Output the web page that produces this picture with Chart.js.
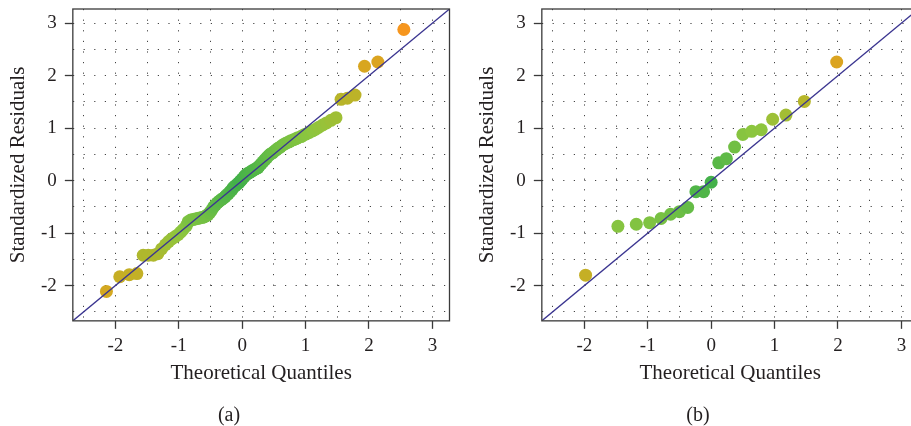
<!DOCTYPE html>
<html>
<head>
<meta charset="utf-8">
<script src="https://cdn.jsdelivr.net/npm/chart.js@4.4.1/dist/chart.umd.min.js"></script>
<style>
  html, body { margin: 0; padding: 0; background: #fff; overflow: hidden; }
  #wrap { position: relative; width: 911px; height: 426px; overflow: hidden; }
  #chartA { position: absolute; left: 0; top: 0; }
  #chartB { position: absolute; left: 469px; top: 0; }
</style>
</head>
<body>
<div id="wrap">
  <canvas id="chartA" width="456" height="426"></canvas>
  <canvas id="chartB" width="456" height="426"></canvas>
</div>
<script>
// (a) theoretical quantiles vs standardized residuals
const quantilesA = [
  -2.14, -1.93, -1.78, -1.66, -1.56, -1.48, -1.40, -1.33, -1.27, -1.21,
  -1.16, -1.11, -1.06, -1.01, -0.97, -0.93, -0.88, -0.85, -0.81, -0.77,
  -0.74, -0.70, -0.67, -0.63, -0.60, -0.57, -0.54, -0.51, -0.48, -0.45,
  -0.42, -0.39, -0.36, -0.33, -0.30, -0.27, -0.25, -0.22, -0.19, -0.16,
  -0.14, -0.11, -0.08, -0.05, -0.03, 0.00,
  0.03, 0.05, 0.08, 0.11, 0.14, 0.16, 0.19, 0.22, 0.25, 0.27,
  0.30, 0.33, 0.36, 0.39, 0.42, 0.45, 0.48, 0.51, 0.54, 0.57,
  0.60, 0.63, 0.67, 0.70, 0.74, 0.77, 0.81, 0.85, 0.88, 0.93,
  0.97, 1.01, 1.06, 1.11, 1.16, 1.21, 1.27, 1.33, 1.40, 1.48,
  1.56, 1.66, 1.78, 1.93, 2.14, 2.55
];
const residualsA = [
  -2.11, -1.83, -1.79, -1.77, -1.42, -1.42, -1.42, -1.39, -1.30, -1.22,
  -1.16, -1.11, -1.07, -1.03, -0.98, -0.93, -0.86, -0.78, -0.75, -0.74,
  -0.73, -0.72, -0.71, -0.70, -0.69, -0.67, -0.65, -0.61, -0.56, -0.50,
  -0.46, -0.42, -0.39, -0.36, -0.34, -0.31, -0.28, -0.25, -0.21, -0.17,
  -0.13, -0.10, -0.07, -0.04, -0.01, 0.03,
  0.07, 0.10, 0.13, 0.15, 0.17, 0.19, 0.21, 0.23, 0.25, 0.28,
  0.32, 0.36, 0.40, 0.44, 0.48, 0.51, 0.53, 0.56, 0.59, 0.62,
  0.64, 0.67, 0.70, 0.72, 0.74, 0.76, 0.78, 0.80, 0.82, 0.84,
  0.87, 0.89, 0.92, 0.95, 0.98, 1.02, 1.06, 1.10, 1.15, 1.20,
  1.55, 1.57, 1.63, 2.18, 2.26, 2.88
];

// (b)
const quantilesB = [
  -1.98, -1.47, -1.18, -0.97, -0.79, -0.64, -0.50, -0.37, -0.24, -0.12, 0.00,
  0.12, 0.24, 0.37, 0.50, 0.64, 0.79, 0.97, 1.18, 1.47, 1.98
];
const residualsB = [
  -1.80, -0.87, -0.83, -0.80, -0.72, -0.64, -0.59, -0.51, -0.21, -0.21, -0.03,
  0.34, 0.42, 0.64, 0.88, 0.94, 0.97, 1.17, 1.25, 1.51, 2.26
];

const axisMin = -2.67;
const axisMax = 3.27;
const gridValues = [-2.5, -2, -1.5, -1, -0.5, 0, 0.5, 1, 1.5, 2, 2.5, 3];
const xTitle = 'Theoretical Quantiles';
const yTitle = 'Standardized Residuals';

const fontFamily = "'Liberation Serif', 'DejaVu Serif', serif";
const textColor = '#231f20';

// green near zero, through yellow-green to orange for large residuals
const colorStops = [
  [0.0, [66, 176, 74]],
  [0.5, [100, 188, 70]],
  [0.95, [141, 198, 63]],
  [1.5, [181, 182, 42]],
  [2.1, [212, 168, 32]],
  [2.9, [247, 150, 30]]
];

function residualColor(ctx) {
  const v = ctx.raw ? Math.abs(ctx.raw.y) : 0;
  for (let i = 1; i < colorStops.length; i++) {
    const [v1, c1] = colorStops[i];
    const [v0, c0] = colorStops[i - 1];
    if (v <= v1 || i === colorStops.length - 1) {
      const t = Math.max(0, Math.min(1, (v - v0) / (v1 - v0)));
      const c = c0.map((a, k) => Math.round(a + (c1[k] - a) * t));
      return `rgb(${c[0]},${c[1]},${c[2]})`;
    }
  }
}

const framePlugin = {
  id: 'frame',
  afterDraw(chart) {
    const { ctx, chartArea: a } = chart;
    ctx.save();
    ctx.strokeStyle = '#3a3a3a';
    ctx.lineWidth = 1.3;
    ctx.strokeRect(a.left, a.top, a.right - a.left, a.bottom - a.top);
    ctx.restore();
  }
};

function axisOptions(titleText, isX) {
  return {
    type: 'linear',
    min: axisMin,
    max: axisMax,
    afterBuildTicks: (axis) => {
      axis.ticks = gridValues.map(v => ({ value: v }));
    },
    afterFit: (axis) => {
      // plot edge is not a tick, so no room is needed for edge labels
      axis.paddingTop = 0;
      axis.paddingBottom = 0;
      axis.paddingLeft = 0;
      axis.paddingRight = 0;
    },
    ticks: {
      autoSkip: false,
      maxRotation: 0,
      padding: isX ? 9 : 8,
      color: textColor,
      font: { family: fontFamily, size: 19, lineHeight: 0.85 },
      callback: (v) => Number.isInteger(v) ? String(v) : ''
    },
    grid: {
      color: '#444',
      lineWidth: 1,
      tickLength: 8,
      tickWidth: 1.3,
      tickBorderDash: [],
      tickColor: (c) => Number.isInteger(c.tick && c.tick.value) ? '#3a3a3a' : 'rgba(0,0,0,0)'
    },
    border: { display: false, dash: [1.2, 9.4] },
    title: {
      display: true,
      text: titleText,
      color: textColor,
      font: { family: fontFamily, size: 21, lineHeight: 1.0 },
      padding: { top: 0, bottom: 4 }
    }
  };
}

function makeChart(id, xs, ys, caption) {
  const points = xs.map((x, i) => ({ x: x, y: ys[i] }));
  return new Chart(document.getElementById(id), {
    type: 'scatter',
    data: {
      datasets: [
        {
          type: 'line',
          data: [{ x: axisMin, y: axisMin }, { x: axisMax, y: axisMax }],
          borderColor: '#3b3590',
          borderWidth: 1.3,
          pointRadius: 0,
          fill: false
        },
        {
          data: points,
          backgroundColor: residualColor,
          borderWidth: 0,
          pointRadius: 6.5,
          pointHoverRadius: 6.5
        }
      ]
    },
    options: {
      responsive: false,
      animation: false,
      devicePixelRatio: 1,
      layout: { padding: { left: 8, right: 6, top: 9, bottom: 0 } },
      scales: {
        x: axisOptions(xTitle, true),
        y: axisOptions(yTitle, false)
      },
      plugins: {
        legend: { display: false },
        tooltip: { enabled: false },
        title: {
          display: true,
          position: 'bottom',
          text: caption,
          color: textColor,
          font: { family: fontFamily, size: 20, weight: 'normal', lineHeight: 1.0 },
          padding: { top: 18, bottom: 0 }
        }
      }
    },
    plugins: [framePlugin]
  });
}

makeChart('chartA', quantilesA, residualsA, '(a)');
makeChart('chartB', quantilesB, residualsB, '(b)');
</script>
</body>
</html>
